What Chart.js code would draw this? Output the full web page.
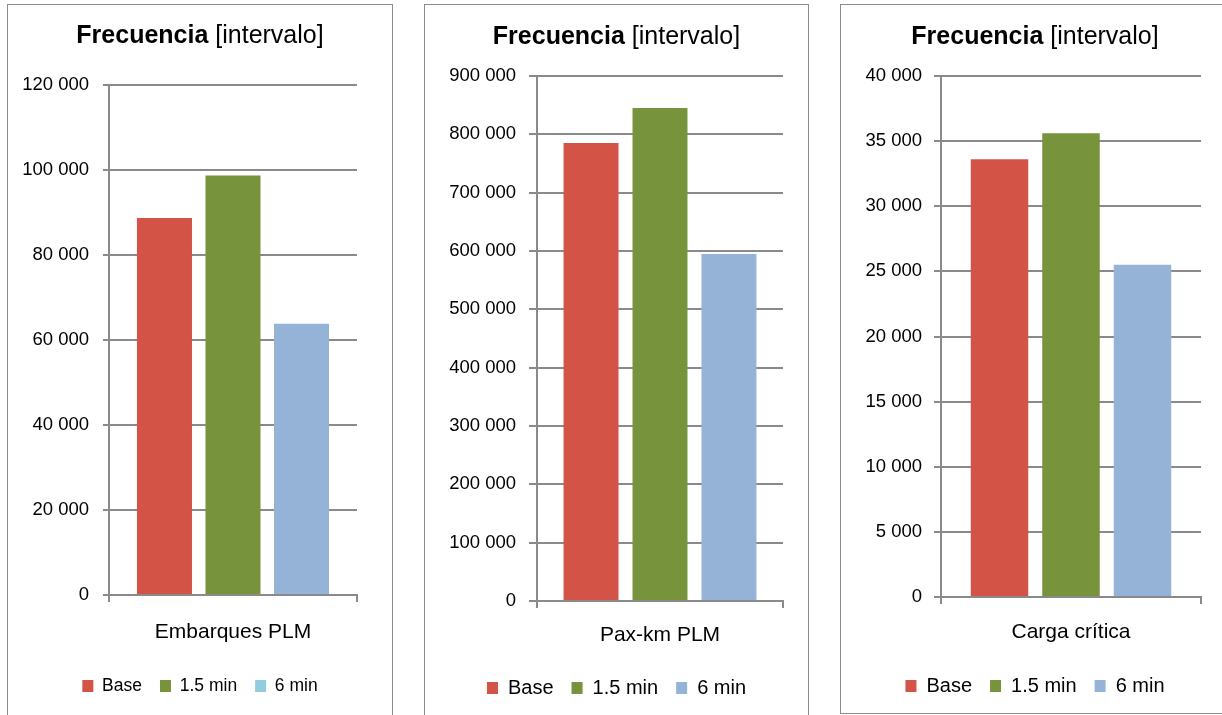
<!DOCTYPE html>
<html>
<head>
<meta charset="utf-8">
<script src="https://cdn.jsdelivr.net/npm/chart.js@4.4.1/dist/chart.umd.min.js"></script>
<style>
  html, body { margin: 0; padding: 0; background: #fff; width: 1222px; height: 715px; overflow: hidden; }
  .panel { position: absolute; box-sizing: border-box; border: 1px solid #8c8c8c; background: #fff; }
  .panel canvas { display: block; }
</style>
</head>
<body>
<div class="panel" style="left:7px;top:4px;width:386px;height:730px"><canvas id="c1" width="384" height="710"></canvas></div>
<div class="panel" style="left:424px;top:4px;width:385px;height:730px"><canvas id="c2" width="383" height="710"></canvas></div>
<div class="panel" style="left:840px;top:4px;width:390px;height:710px"><canvas id="c3" width="388" height="708"></canvas></div>
<script>
// Series shared by the three panels
const seriesNames = ['Base', '1.5 min', '6 min'];
const seriesColors = ['#D35447', '#77933C', '#95B3D7'];

// Panel 1: boardings
const embarquesCategory = ['Embarques PLM'];
const embarquesValues = [88700, 98700, 63800];
const embarquesTicks = { max: 120000, step: 20000 };

// Panel 2: passenger-km
const paxKmCategory = ['Pax-km PLM'];
const paxKmValues = [785000, 845000, 595000];
const paxKmTicks = { max: 900000, step: 100000 };

// Panel 3: critical load
const cargaCategory = ['Carga crítica'];
const cargaValues = [33600, 35600, 25500];
const cargaTicks = { max: 40000, step: 5000 };

// Legend swatches (the first panel shows a lighter swatch for "6 min")
const legendSwatches1 = ['#D35447', '#77933C', '#93CDDD'];
const legendSwatches23 = seriesColors;

const FONT = '"Liberation Sans", Arial, sans-serif';
const LINE = '#8a8a8a';

function thousands(v) {
  return String(v).replace(/\B(?=(\d{3})+(?!\d))/g, ' ');
}

// Two-part title: bold "Frecuencia" followed by regular "[intervalo]"
const mixedTitle = {
  id: 'mixedTitle',
  afterDraw(chart, args, opts) {
    const ctx = chart.ctx;
    ctx.save();
    const bold = 'bold ' + opts.size + 'px ' + FONT;
    const reg = opts.size + 'px ' + FONT;
    ctx.font = bold;
    const w1 = ctx.measureText(opts.bold).width;
    ctx.font = reg;
    const w2 = ctx.measureText(opts.regular).width;
    const x = chart.width / 2 - (w1 + w2) / 2;
    ctx.fillStyle = '#000';
    ctx.textBaseline = 'alphabetic';
    ctx.textAlign = 'left';
    ctx.font = bold;
    ctx.fillText(opts.bold, x, opts.baseline);
    ctx.font = reg;
    ctx.fillText(opts.regular, x + w1, opts.baseline);
    ctx.restore();
  }
};

function makeChart(id, p) {
  const canvas = document.getElementById(id);
  const H = canvas.height, W = canvas.width;
  const datasets = seriesNames.map((name, i) => ({
    label: name,
    data: [p.values[i]],
    backgroundColor: seriesColors[i],
    borderWidth: 0,
    categoryPercentage: p.catPct,
    barPercentage: p.barPct
  }));
  return new Chart(canvas, {
    type: 'bar',
    data: { labels: p.category, datasets },
    plugins: [mixedTitle],
    options: {
      responsive: false,
      animation: false,
      events: [],
      layout: { padding: { top: p.area.top, left: 0, right: 0, bottom: p.padBottom } },
      plugins: {
        tooltip: { enabled: false },
        title: { display: false },
        mixedTitle: { bold: 'Frecuencia', regular: ' [intervalo]', size: 25, baseline: p.titleBaseline },
        legend: {
          display: true,
          position: 'bottom',
          labels: {
            font: { family: FONT, size: p.legendFont },
            color: '#000',
            boxWidth: 11,
            boxHeight: 12,
            padding: 18,
            generateLabels(chart) {
              const items = Chart.defaults.plugins.legend.labels.generateLabels(chart);
              items.forEach((it, i) => { it.fillStyle = p.swatches[i]; it.strokeStyle = p.swatches[i]; it.lineWidth = 0; });
              return items;
            }
          }
        }
      },
      scales: {
        x: {
          offset: true,
          grid: { display: true, drawOnChartArea: false, drawTicks: true, tickLength: 7, color: LINE, lineWidth: 2 },
          border: { display: true, color: LINE, width: 2 },
          ticks: { font: { family: FONT, size: 21 }, color: '#000', padding: p.catPad, maxRotation: 0 },
          afterFit(s) {
            const leg = s.chart.legend ? s.chart.legend.height : 0;
            s.height = H - p.padBottom - leg - p.area.bottom;
          }
        },
        y: {
          min: 0,
          max: p.ticks.max,
          grid: { color: LINE, lineWidth: 2, drawTicks: true, tickLength: p.tickLen },
          border: { display: true, color: LINE, width: 2 },
          ticks: {
            stepSize: p.ticks.step,
            font: { family: FONT, size: 18.5 },
            color: '#000',
            padding: p.tickPad,
            callback: (v) => thousands(v)
          },
          afterFit(s) { s.width = p.area.left; }
        },
        // empty right-hand margin so the plot stays narrower than the legend row
        margin: {
          type: 'linear',
          position: 'right',
          grid: { display: false },
          border: { display: false },
          ticks: { display: false },
          afterFit(s) { s.width = W - p.area.right; }
        }
      }
    }
  });
}

makeChart('c1', {
  category: embarquesCategory, values: embarquesValues, ticks: embarquesTicks,
  area: { left: 101, right: 349, top: 80, bottom: 590 },
  tickLen: 6, tickPad: 14, catPad: 17.4, catPct: 0.829, barPct: 0.803,
  legendFont: 17.5, padBottom: 10.25, titleBaseline: 38, swatches: legendSwatches1
});

makeChart('c2', {
  category: paxKmCategory, values: paxKmValues, ticks: paxKmTicks,
  area: { left: 112, right: 358, top: 71, bottom: 596 },
  tickLen: 8, tickPad: 13, catPad: 14.4, catPct: 0.841, barPct: 0.797,
  legendFont: 20, padBottom: 7, titleBaseline: 39, swatches: legendSwatches23
});

makeChart('c3', {
  category: cargaCategory, values: cargaValues, ticks: cargaTicks,
  area: { left: 100, right: 360, top: 71, bottom: 592 },
  tickLen: 7, tickPad: 12, catPad: 15.4, catPct: 0.825, barPct: 0.804,
  legendFont: 20, padBottom: 7, titleBaseline: 39, swatches: legendSwatches23
});
</script>
</body>
</html>
